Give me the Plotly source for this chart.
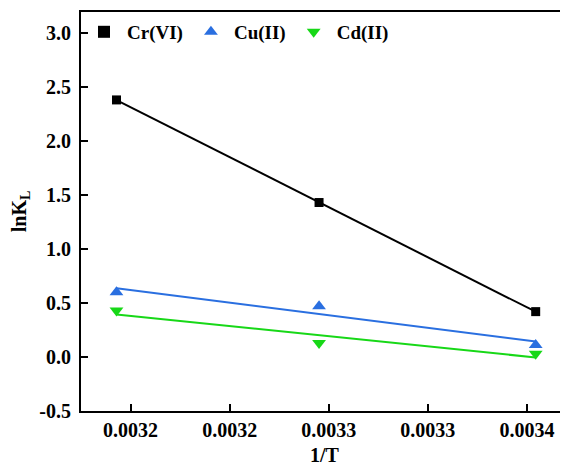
import numpy as np
import plotly.graph_objects as go

# Data
inv_T = [0.0031929, 0.0032951, 0.0034044]
cr_vi = [2.38, 1.43, 0.42]
cu_ii = [0.60, 0.47, 0.11]
cd_ii = [0.43, 0.13, 0.03]
series_names = ["Cr(VI)", "Cu(II)", "Cd(II)"]
x_ticks = [0.00320, 0.00325, 0.00330, 0.00335, 0.00340]
x_tick_labels = ["0.0032", "0.0032", "0.0033", "0.0033", "0.0034"]
y_ticks = [-0.5, 0.0, 0.5, 1.0, 1.5, 2.0, 2.5, 3.0]

colors = ["#000000", "#2a6fe0", "#17d817"]
symbols = ["square", "triangle-up", "triangle-down"]
sizes = [9, 12, 12]

FONT = "Liberation Serif"
fig = go.Figure()
xs = np.array(inv_T)
for name, ys, c in zip(series_names, [cr_vi, cu_ii, cd_ii], colors):
    # linear fit line
    k, b = np.polyfit(xs, np.array(ys), 1)
    fig.add_trace(go.Scatter(x=xs, y=k * xs + b, mode="lines",
                             line=dict(color=c, width=2), showlegend=False,
                             hoverinfo="skip"))
for name, ys, c, s, sz in zip(series_names, [cr_vi, cu_ii, cd_ii], colors, symbols, sizes):
    fig.add_trace(go.Scatter(x=inv_T, y=ys, mode="markers", name=f"<b>{name}</b>",
                             marker=dict(color=c, symbol=s, size=sz, line=dict(width=0))))

# page body has an 8px margin, so the figure is offset by (8, 8)
fig.update_layout(
    width=560, height=463,
    margin=dict(l=73, r=0, t=4, b=60),
    plot_bgcolor="white", paper_bgcolor="white",
    font=dict(family=FONT, size=20, color="black"),
    showlegend=True,
    legend=dict(orientation="h", x=0.0, y=0.95, xanchor="left", yanchor="middle",
                font=dict(family=FONT, size=19, color="black"),
                bgcolor="rgba(0,0,0,0)", itemsizing="constant", itemwidth=36,
                tracegroupgap=0),
)
fig.update_xaxes(
    range=[0.003175, 0.0034207],
    tickvals=x_ticks, ticktext=[f"<b>{t}</b>" for t in x_tick_labels],
    ticks="inside", ticklen=7, tickwidth=1.5, tickcolor="black",
    showline=True, linecolor="black", linewidth=2, mirror=True,
    showgrid=False, zeroline=False,
    tickfont=dict(family=FONT, size=20, color="black"),
    title=dict(text="<b>1/T</b>", font=dict(family=FONT, size=20), standoff=8),
)
fig.update_yaxes(
    range=[-0.5, 3.194],
    tickvals=y_ticks, ticktext=[f"<b>{v:.1f}</b>" for v in y_ticks],
    ticks="inside", ticklen=7, tickwidth=1.5, tickcolor="black",
    showline=True, linecolor="black", linewidth=2, mirror=False,
    showgrid=False, zeroline=False,
    ticklabelstandoff=4,
    tickfont=dict(family=FONT, size=20, color="black"),
    title=dict(text="<b>lnK<sub>L</sub></b>", font=dict(family=FONT, size=20), standoff=12),
)
fig.write_html("out.html")
